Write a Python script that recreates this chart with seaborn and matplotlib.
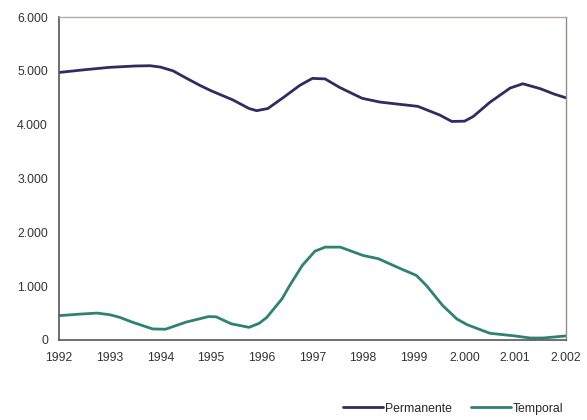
import pandas as pd
import matplotlib
matplotlib.use("Agg")
import matplotlib.pyplot as plt
import seaborn as sns

# Values
perm_years = [1992.0, 1992.5, 1993.0, 1993.5, 1993.8, 1994.0, 1994.25, 1994.5, 1994.78,
              1995.0, 1995.43, 1995.75, 1995.9, 1996.12, 1996.42, 1996.75, 1997.0,
              1997.25, 1997.54, 1997.98, 1998.33, 1999.08, 1999.51, 1999.75, 2000.0,
              2000.17, 2000.5, 2000.9, 2001.15, 2001.49, 2001.78, 2002.0]
perm_values = [4970, 5020, 5065, 5090, 5095, 5070, 5000, 4870, 4730,
               4630, 4460, 4300, 4260, 4300, 4500, 4730, 4860,
               4850, 4690, 4490, 4420, 4340, 4180, 4060, 4065,
               4150, 4415, 4680, 4760, 4670, 4565, 4500]

temp_years = [1992.0, 1992.4, 1992.75, 1993.0, 1993.2, 1993.45, 1993.85, 1994.1, 1994.5,
              1994.95, 1995.1, 1995.4, 1995.75, 1995.95, 1996.1, 1996.4, 1996.55,
              1996.8, 1997.05, 1997.25, 1997.55, 1998.0, 1998.3, 1998.75, 1999.05,
              1999.25, 1999.57, 1999.85, 2000.05, 2000.5, 2000.95, 2001.3, 2001.55, 2002.0]
temp_values = [452, 480, 500, 470, 420, 330, 205, 200, 330,
               435, 430, 300, 235, 310, 420, 765, 1010,
               1385, 1650, 1725, 1725, 1570, 1510, 1320, 1200,
               1010, 640, 390, 285, 125, 80, 37, 37, 75]

series_names = ["Permanente", "Temporal"]
series_colors = ["#2E2D62", "#2F8272"]
tick_years = list(range(1992, 2003))
tick_labels = ["1992", "1993", "1994", "1995", "1996", "1997", "1998", "1999",
               "2.000", "2.001", "2.002"]
y_ticks = [0, 1000, 2000, 3000, 4000, 5000, 6000]
y_labels = ["0", "1.000", "2.000", "3.000", "4.000", "5.000", "6.000"]

df = pd.concat([
    pd.DataFrame({"year": perm_years, "value": perm_values, "serie": series_names[0]}),
    pd.DataFrame({"year": temp_years, "value": temp_values, "serie": series_names[1]}),
])

sns.set_style("white")
plt.rcParams["font.family"] = ["Liberation Sans", "DejaVu Sans"]

fig = plt.figure(figsize=(5.87, 4.2), dpi=100)
ax = fig.add_axes([0.1005, 0.1905, 0.8635, 0.769])

sns.lineplot(data=df, x="year", y="value", hue="serie", palette=series_colors,
             estimator=None, sort=True, linewidth=2.0, ax=ax, legend=True)
for line in ax.get_lines():
    line.set_solid_joinstyle("round")
    line.set_solid_capstyle("round")

ax.set_xlim(1992, 2002)
ax.set_ylim(0, 6000)
ax.set_xticks(tick_years)
ax.set_xticklabels(tick_labels)
ax.set_yticks(y_ticks)
ax.set_yticklabels(y_labels)
ax.set_xlabel("")
ax.set_ylabel("")

ax.tick_params(axis="x", direction="inout", length=7, width=1, color="#555555",
               labelsize=8.8, labelcolor="#333333", pad=5)
ax.tick_params(axis="y", direction="out", length=4, width=1, color="#555555",
               labelsize=8.8, labelcolor="#333333", pad=4)

for side in ["left", "bottom"]:
    ax.spines[side].set_color("#555555")
    ax.spines[side].set_linewidth(1.2)
ax.spines["top"].set_color("#B0AAA6")
ax.spines["top"].set_linewidth(1.0)
ax.spines["right"].set_color("#9C8A86")
ax.spines["right"].set_linewidth(1.0)

handles, labels = ax.get_legend_handles_labels()
ax.legend_.remove()
fig.legend(handles, labels, loc="center", bbox_to_anchor=(0.772, 0.027), ncol=2,
           frameon=False, fontsize=8.8, handlelength=3.3, handletextpad=0.1,
           columnspacing=1.6)

fig.savefig("out.png", dpi=100)
